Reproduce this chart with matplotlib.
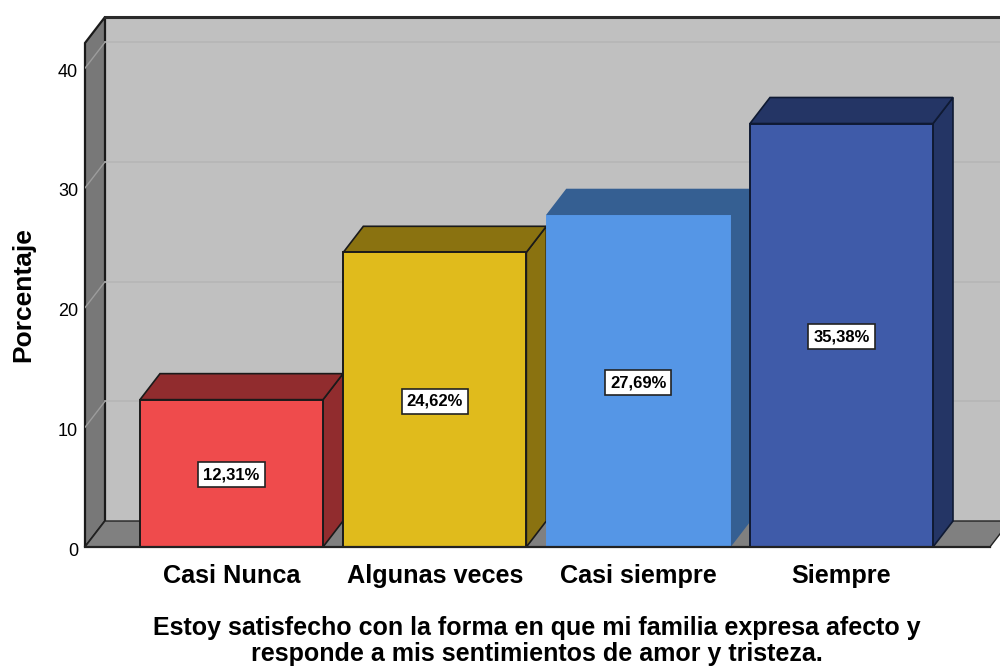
import matplotlib
matplotlib.use('Agg')
import matplotlib.pyplot as plt
from matplotlib.patches import Polygon
from matplotlib.transforms import ScaledTranslation

categories = ['Casi Nunca', 'Algunas veces', 'Casi siempre', 'Siempre']
values = [12.31, 24.62, 27.69, 35.38]
value_labels = ['12,31%', '24,62%', '27,69%', '35,38%']
yticks = [0, 10, 20, 30, 40]
xlabel = 'Estoy satisfecho con la forma en que mi familia expresa afecto y\nresponde a mis sentimientos de amor y tristeza.'

front_colors = ['#EF4B4C', '#E0BB1C', '#5596E6', '#3F5BA9']
dark_colors = ['#912C2E', '#8A7210', '#355F92', '#243565']
edge_colors = ['#1a1a1a', '#1a1a1a', '#355F92', '#0f1a33']
front_edges = ['#1a1a1a', '#1a1a1a', '#5596E6', '#0f1a33']

plt.rcParams['font.family'] = ['Liberation Sans', 'DejaVu Sans']

W, H = 1000, 666
fig = plt.figure(figsize=(10, 6.66), dpi=100)

# axes box runs from the front left corner to the top of the back wall
left, right, bottom, top = 85, 1000, 547, 17
ax = fig.add_axes([left / W, 1 - bottom / H, (right - left) / W, (bottom - top) / H])

px_x = 203.33   # pixels per category
px_y = 11.97    # pixels per percent
x0 = (231.5 - left) / px_x
ax.set_xlim(-x0, (right - left) / px_x - x0)
ax.set_ylim(0, (bottom - top) / px_y)

dx = 20 / px_x  # depth offset of the 3d effect
dy = 26 / px_y
wall_l = -x0
wall_r = 3.73   # front right corner of the floor
ymax = ax.get_ylim()[1]
wall_t = ymax - dy

# back wall, left wall, floor
ax.add_patch(Polygon([(wall_l + dx, dy), (wall_r + dx, dy), (wall_r + dx, ymax), (wall_l + dx, ymax)],
                     fc='#C0C0C0', ec='none', zorder=1))
ax.add_patch(Polygon([(wall_l, 0), (wall_l + dx, dy), (wall_l + dx, ymax), (wall_l, wall_t)],
                     fc='#787878', ec='#1a1a1a', lw=1.6, zorder=1.2, clip_on=False))
ax.add_patch(Polygon([(wall_l, 0), (wall_l + dx, dy), (wall_r + dx, dy), (wall_r, 0)],
                     fc='#808080', ec='#222222', lw=1.0, zorder=1.2))
ax.plot([wall_l + dx, wall_r + dx], [ymax, ymax], color='#2a2a2a', lw=2.2, zorder=1.3, clip_on=False)

# gridlines, back wall plus the slanted bit on the left wall
for t in yticks[1:]:
    ax.plot([wall_l + dx, wall_r + dx], [t + dy, t + dy], color='#B6B6B6', lw=1.2, zorder=1.5)
    ax.plot([wall_l, wall_l + dx], [t, t + dy], color='#9C9C9C', lw=1.0, zorder=1.5)

width = 183 / px_x
for i, v in enumerate(values):
    l = i - width / 2
    r = i + width / 2
    # side face
    ax.add_patch(Polygon([(r, 0), (r + dx, dy), (r + dx, v + dy), (r, v)],
                         fc=dark_colors[i], ec=edge_colors[i], lw=1.2, zorder=3 + i))
    # top face
    ax.add_patch(Polygon([(l, v), (l + dx, v + dy), (r + dx, v + dy), (r, v)],
                         fc=dark_colors[i], ec=edge_colors[i], lw=1.2, zorder=3 + i))
    ax.bar(i, v, width=width, color=front_colors[i], edgecolor=front_edges[i], lw=1.4, zorder=3.5 + i)
    ax.text(i, v / 2 - 1.5 / px_y, value_labels[i], ha='center', va='center', fontsize=12, fontweight='bold',
            color='black', zorder=10,
            bbox=dict(boxstyle='square,pad=0.3', fc='white', ec='#222222', lw=1.2))

ax.plot([wall_l, wall_r], [0, 0], color='#222222', lw=1.6, zorder=9, clip_on=False)

for s in ax.spines.values():
    s.set_visible(False)
ax.patch.set_visible(False)

ax.set_yticks(yticks)
ax.set_yticklabels([str(t) for t in yticks], fontsize=13)
ax.set_xticks(range(len(categories)))
ax.set_xticklabels(categories, fontsize=18.2, fontweight='bold')
ax.tick_params(axis='y', length=0, pad=5)
ax.tick_params(axis='x', length=0, pad=12)

# labels sit a little under their gridline in the original
for lab in ax.get_yticklabels():
    lab.set_transform(lab.get_transform() + ScaledTranslation(0, -2 / 100, fig.dpi_scale_trans))

fig.text(23 / W, 1 - 295 / H, 'Porcentaje', rotation=90, ha='center', va='center',
         fontsize=19, fontweight='bold')
fig.text(537 / W, 1 - 641 / H, xlabel, ha='center', va='center', fontsize=18,
         fontweight='bold', linespacing=1.15)

fig.savefig('out.png', dpi=100)
